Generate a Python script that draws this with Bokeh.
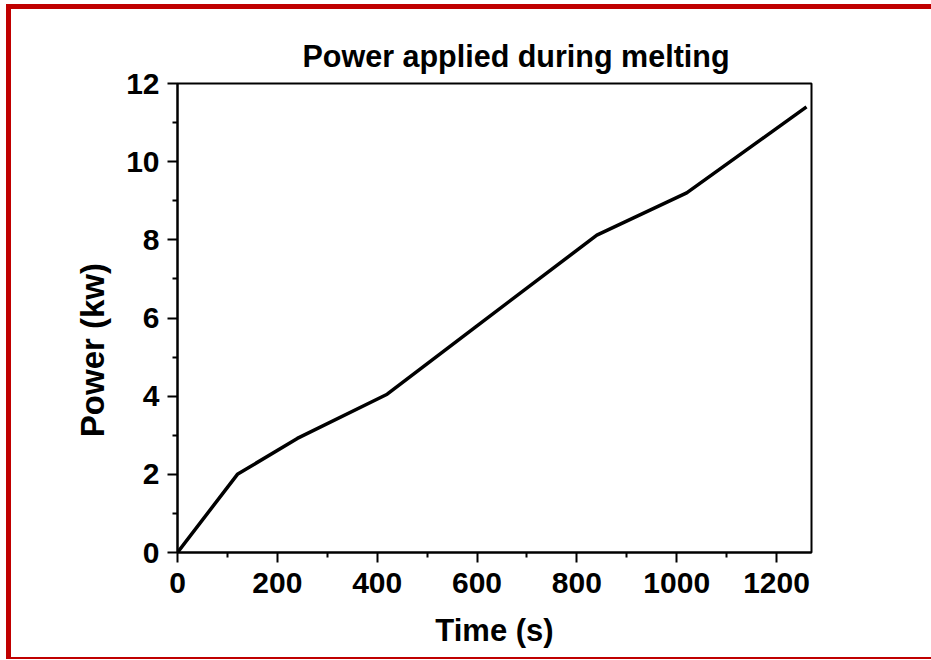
from bokeh.plotting import figure
from bokeh.models import Range1d, FixedTicker
from bokeh.embed import file_html
from bokeh.resources import INLINE

# Data
time_s = [0, 120, 240, 420, 600, 840, 1020, 1260]
power_kw = [0, 2.0, 2.92, 4.05, 5.8, 8.12, 9.2, 11.4]
x_ticks = [0, 200, 400, 600, 800, 1000, 1200]
x_minor = [100, 300, 500, 700, 900, 1100]
y_ticks = [0, 2, 4, 6, 8, 10, 12]
y_minor = [1, 3, 5, 7, 9, 11]

FONT = "Liberation Sans"
RED = "#c00000"

p = figure(width=920, height=648, output_backend="svg", toolbar_location=None,
           x_range=Range1d(0, 1270), y_range=Range1d(0, 12),
           min_border_left=166, min_border_right=120, min_border_top=74, min_border_bottom=105,
           margin=0)

# red page frame (top, left, bottom) drawn as box shadows outside the figure
p.styles = {"margin-left": "11px", "margin-top": "9px",
            "box-shadow": (f"-5px 0 0 0 {RED}, 0 -5px 0 0 {RED}, -5px -5px 0 0 {RED}, "
                           f"0 2px 0 0 {RED}, -5px 2px 0 0 {RED}")}

p.line(time_s, power_kw, line_color="black", line_width=3.5)

p.title.text = "Power applied during melting"
p.title.text_font = FONT
p.title.text_font_size = "30.5px"
p.title.text_font_style = "bold"
p.title.text_color = "black"
p.title.align = "left"
p.title.offset = 125
p.title.standoff = 21

p.xgrid.visible = False
p.ygrid.visible = False
p.background_fill_color = "white"
p.border_fill_color = "white"
p.outline_line_color = "black"
p.outline_line_width = 2

for ax, ticks, minor in ((p.xaxis[0], x_ticks, x_minor), (p.yaxis[0], y_ticks, y_minor)):
    ax.ticker = FixedTicker(ticks=ticks, minor_ticks=minor)
    ax.axis_line_color = "black"
    ax.axis_line_width = 2
    ax.major_tick_line_color = "black"
    ax.major_tick_line_width = 2
    ax.minor_tick_line_color = "black"
    ax.minor_tick_line_width = 2
    ax.major_tick_in = 0
    ax.major_tick_out = 10
    ax.minor_tick_in = 0
    ax.minor_tick_out = 5
    ax.major_label_text_font = FONT
    ax.major_label_text_font_size = "30px"
    ax.major_label_text_font_style = "bold"
    ax.major_label_text_color = "black"
    ax.axis_label_text_font = FONT
    ax.axis_label_text_font_style = "bold"
    ax.axis_label_text_color = "black"

p.xaxis.axis_label = "Time (s)"
p.xaxis.axis_label_text_font_size = "31px"
p.xaxis.major_label_standoff = 10
p.yaxis.major_label_standoff = 8
p.xaxis.axis_label_standoff = 17

# trailing no-break spaces shift the rotated label downward, as in the original
p.yaxis.axis_label = "Power (kw)" + "\u00a0" * 7
p.yaxis.axis_label_text_font_size = "33px"
p.yaxis.axis_label_standoff = 12

open("out.html", "w").write(file_html(p, INLINE))
